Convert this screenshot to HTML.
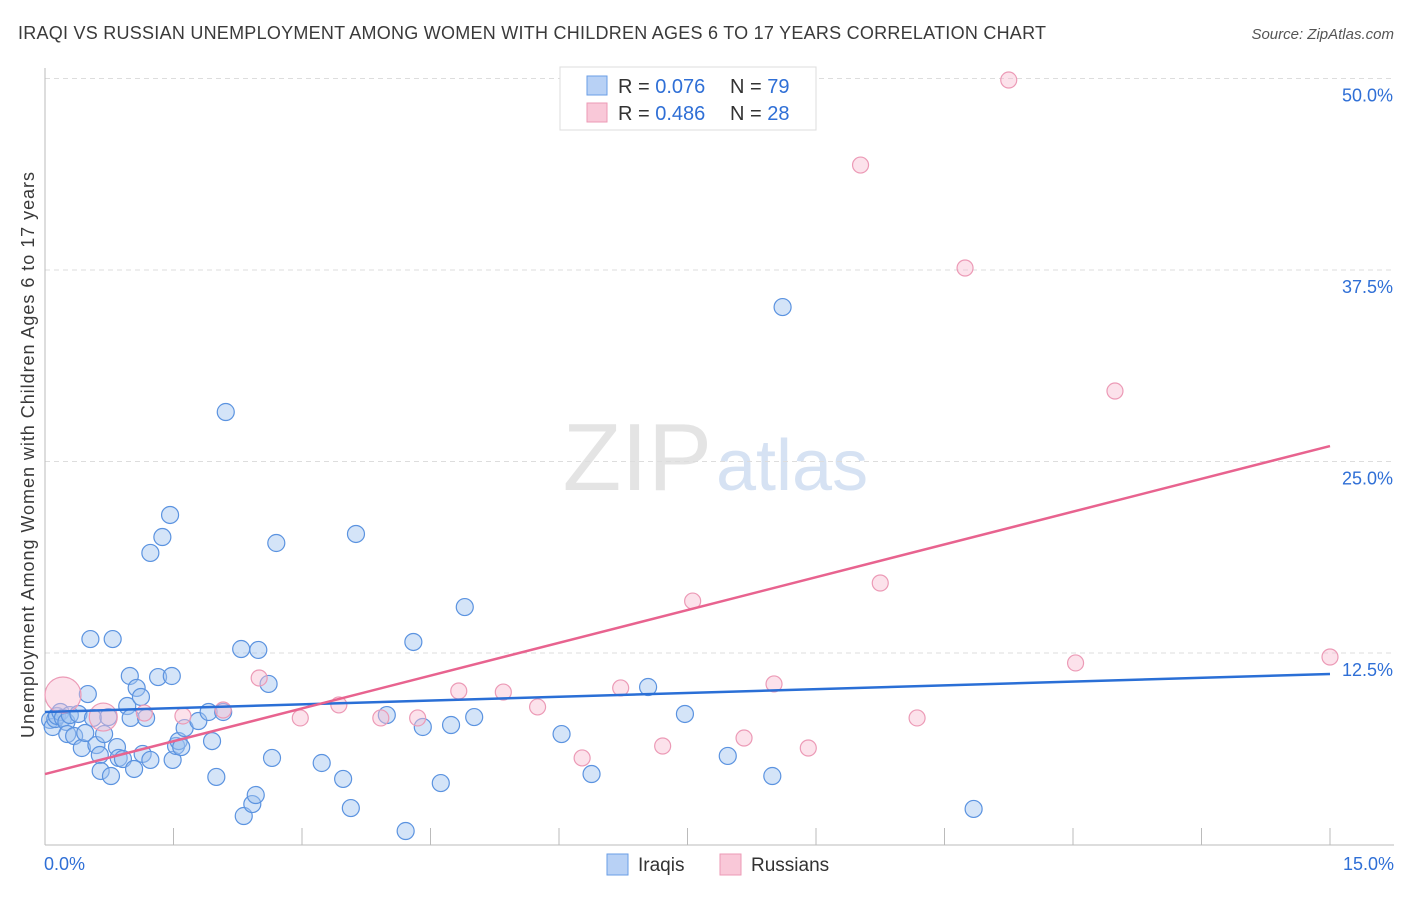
<!DOCTYPE html>
<html><head><meta charset="utf-8"><style>
body{margin:0;background:#fff;font-family:"Liberation Sans",sans-serif}
svg text{font-family:"Liberation Sans",sans-serif}
</style></head><body>
<svg id="chart" width="1406" height="892" xmlns="http://www.w3.org/2000/svg">
<text x="18" y="39" font-size="18" fill="#3a3a3a" textLength="1028">IRAQI VS RUSSIAN UNEMPLOYMENT AMONG WOMEN WITH CHILDREN AGES 6 TO 17 YEARS CORRELATION CHART</text>
<text x="1394" y="39" font-size="15" fill="#555" font-style="italic" text-anchor="end">Source: ZipAtlas.com</text>
<text x="712" y="490" font-size="96" fill="#e4e4e4" text-anchor="end" font-family="Liberation Serif">ZIP</text>
<text x="716" y="490" font-size="72" fill="#d6e2f3">atlas</text>
<text transform="translate(34,455) rotate(-90)" font-size="18" fill="#3a3a3a" text-anchor="middle" textLength="566">Unemployment Among Women with Children Ages 6 to 17 years</text>
<g id="grid"></g><g id="axes"></g><g id="marks"></g>
<g>
<rect x="560" y="67" width="256" height="63" fill="#fff" stroke="#ddd"/>
<rect x="587" y="76" width="20" height="19" fill="#b8d1f5" stroke="#6a9ee6"/>
<rect x="587" y="103" width="20" height="19" fill="#f9c8d8" stroke="#ec9ab6"/>
<text x="618" y="93" font-size="20" fill="#333">R = <tspan fill="#2f6fd6">0.076</tspan><tspan x="730">N = </tspan><tspan fill="#2f6fd6">79</tspan></text>
<text x="618" y="120" font-size="20" fill="#333">R = <tspan fill="#2f6fd6">0.486</tspan><tspan x="730">N = </tspan><tspan fill="#2f6fd6">28</tspan></text>
</g>
<g>
<rect x="607" y="854" width="21" height="21" fill="#b8d1f5" stroke="#6a9ee6"/>
<text x="638" y="871" font-size="19" fill="#333">Iraqis</text>
<rect x="720" y="854" width="21" height="21" fill="#f9c8d8" stroke="#ec9ab6"/>
<text x="751" y="871" font-size="19" fill="#333">Russians</text>
</g>
</svg>
<script>
const xTicks=[0,1.5,3,4.5,6,7.5,9,10.5,12,13.5,15];
const yTicks=[12.5,25,37.5,50];
const yTickLabels=["12.5%","25.0%","37.5%","50.0%"];
const iraqiX=[.06,.09,.12,.14,.18,.21,.25,.29,.26,.34,.39,.43,.47,.50,.53,.56,.60,.64,.65,.69,.74,.77,.79,.84,.86,.91,.96,.99,1.00,1.04,1.07,1.12,1.14,1.18,1.23,1.23,1.32,1.37,1.46,1.48,1.49,1.53,1.56,1.59,1.63,1.79,1.91,1.95,2.00,2.08,2.11,2.29,2.32,2.42,2.46,2.49,2.61,2.65,2.70,3.23,3.48,3.57,3.63,3.99,4.21,4.30,4.41,4.62,4.74,4.90,5.01,6.03,6.38,7.04,7.47,7.97,8.49,8.61,10.84];
const iraqiY=[8.13,7.67,8.19,8.39,8.65,8.26,8.00,8.45,7.21,7.08,8.52,6.30,7.28,9.82,13.41,8.26,6.49,5.84,4.80,7.21,8.32,4.47,13.41,6.36,5.65,5.58,9.04,11.00,8.26,4.93,10.22,9.63,5.91,8.26,5.52,19.03,10.93,20.07,21.51,11.00,5.52,6.43,6.75,6.36,7.60,8.06,8.65,6.75,4.41,8.65,28.23,12.76,1.86,2.64,3.23,12.70,10.48,5.65,19.68,5.32,4.28,2.38,20.27,8.45,0.88,13.22,7.67,4.01,7.80,15.50,8.32,7.21,4.60,10.28,8.52,5.78,4.47,35.08,2.32];
const russianX=[.21,.68,1.16,1.61,2.08,2.50,2.98,3.43,3.92,4.35,4.83,5.35,5.75,6.27,6.72,7.21,7.56,8.16,8.51,8.91,9.75,10.18,9.52,10.74,11.25,12.49,12.03,15.0];
const russianY=[9.76,8.32,8.58,8.39,8.78,10.87,8.26,9.11,8.26,8.26,10.02,9.95,8.98,5.65,10.22,6.43,15.89,6.95,10.48,6.30,17.07,8.26,44.35,37.63,49.90,29.60,11.85,12.24];
const russianWeight=[5,3,1,1,1,1,1,1,1,1,1,1,1,1,1,1,1,1,1,1,1,1,1,1,1,1,1,1];
const iraqiFit=[8.65,11.13];
const russianFit=[4.60,26.01];
const NS="http://www.w3.org/2000/svg";
const xs=v=>45+v*(1330-45)/15;
const ys=v=>844.5-v*15.32;
function mk(t,a,p){const e=document.createElementNS(NS,t);for(const k in a)e.setAttribute(k,a[k]);p.appendChild(e);return e;}
const grid=document.getElementById('grid'),axes=document.getElementById('axes'),marks=document.getElementById('marks');
yTicks.forEach((t,i)=>{
 const l=mk('line',{x1:45,x2:1394,y1:ys(t),y2:ys(t),stroke:'#ddd','stroke-dasharray':'5,4'},grid);
 
 
 const tx=mk('text',{x:1393,y:ys(t)+23,'font-size':18,fill:'#2f6fd6','text-anchor':'end'},axes);
 tx.textContent=yTickLabels[i];
 
 
});
const ax=mk('line',{x1:45,x2:1394,y1:845,y2:845,stroke:'#bbb'},axes);


const ay=mk('line',{x1:45,x2:45,y1:68,y2:845,stroke:'#bbb'},axes);


xTicks.forEach(t=>{
 const l=mk('line',{x1:xs(t),x2:xs(t),y1:828,y2:845,stroke:'#bbb'},axes);
 
 
});
[[0,'0.0%',44,'start'],[15,'15.0%',1394,'end']].forEach(d=>{
 const tx=mk('text',{x:d[2],y:870,'font-size':18,fill:'#2f6fd6','text-anchor':d[3]},axes);
 tx.textContent=d[1];
 
 
});
iraqiX.forEach((x,i)=>{
 const c=mk('circle',{cx:xs(x),cy:ys(iraqiY[i]),r:8.5,fill:'rgba(160,195,240,0.45)',stroke:'#5b93e0','stroke-width':1.2},marks);
 
 
});
russianX.forEach((x,i)=>{
 const w=russianWeight[i];
 const c=mk('circle',{cx:xs(x),cy:ys(russianY[i]),r:w>=5?18:(w>=3?14:8),fill:'rgba(248,190,210,0.45)',stroke:'#ec9ab6','stroke-width':1.2},marks);
 
 
});
const bl=mk('line',{x1:xs(0),y1:ys(iraqiFit[0]),x2:xs(15),y2:ys(iraqiFit[1]),stroke:'#2a6fd6','stroke-width':2.5},marks);


const pl=mk('line',{x1:xs(0),y1:ys(russianFit[0]),x2:xs(15),y2:ys(russianFit[1]),stroke:'#e8638f','stroke-width':2.5},marks);


</script>
</body></html>
